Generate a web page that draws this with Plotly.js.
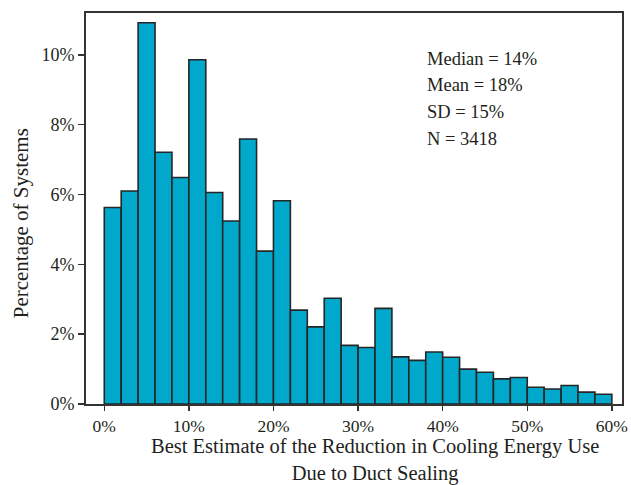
<!DOCTYPE html>
<html>
<head>
<meta charset="utf-8">
<script src="https://cdn.plot.ly/plotly-3.0.1.min.js"></script>
<style>html,body{margin:0;padding:0;background:#fff;}#chart{width:631px;height:485px;}</style>
</head>
<body>
<div id="chart"></div>
<script>
// Bin centers (% reduction), each bin 2 percentage points wide
const binCenters = [1,3,5,7,9,11,13,15,17,19,21,23,25,27,29,31,33,35,37,39,41,43,45,47,49,51,53,55,57,59];
// Percentage of systems in each bin
const pctSystems = [5.63,6.10,10.92,7.21,6.49,9.86,6.06,5.24,7.59,4.38,5.82,2.69,2.21,3.03,1.68,1.62,2.74,1.35,1.25,1.49,1.34,1.00,0.91,0.72,0.76,0.48,0.43,0.53,0.34,0.28];
const xTickVals = [0,10,20,30,40,50,60];
const xTickText = ["0%","10%","20%","30%","40%","50%","60%"];
const yTickVals = [0,2,4,6,8,10];
const yTickText = ["0%","2%","4%","6%","8%","10%"];
const statsLines = ["Median = 14%","Mean = 18%","SD = 15%","N = 3418"];

const serif = "Liberation Serif, Times New Roman, serif";
const txt = "#231f20";

const trace = {
  type: "bar",
  x: binCenters,
  y: pctSystems,
  width: 2,
  marker: {color: "#00a9cc", line: {color: "#262626", width: 1.6}},
  hoverinfo: "skip"
};

const W = 622 - 86, H = 403.7 - 12.7;
const annotations = statsLines.map((t, i) => ({
  xref: "paper", yref: "paper",
  x: (425 - 86) / W, y: 1 - (58.3 - 12.7 + i * 26.7) / H,
  xanchor: "left", yanchor: "middle",
  text: t, showarrow: false,
  font: {family: serif, size: 18.5, color: txt}
}));
annotations.push({
  xref: "paper", yref: "paper",
  x: (375 - 86) / W, y: -(434 - 403.7) / H,
  xanchor: "center", yanchor: "top",
  borderpad: 0,
  text: "Best Estimate of the Reduction in Cooling Energy Use<br>Due to Duct Sealing",
  showarrow: false,
  font: {family: serif, size: 20.5, color: txt}
});
annotations.push({
  xref: "paper", yref: "paper",
  x: (21 - 86) / W, y: 1 - (223 - 12.7) / H,
  xanchor: "center", yanchor: "middle",
  textangle: -90,
  text: "Percentage of Systems",
  showarrow: false,
  font: {family: serif, size: 21, color: txt}
});

const layout = {
  width: 631, height: 485,
  margin: {l: 86, r: 9, t: 13, b: 81},
  paper_bgcolor: "#fff", plot_bgcolor: "#fff",
  showlegend: false,
  bargap: 0,
  xaxis: {
    range: [-2.16, 61.2],
    tickvals: xTickVals, ticktext: xTickText,
    ticks: "outside", ticklen: 5, tickwidth: 1.5, tickcolor: "#333",
    showgrid: false, zeroline: false,
    showline: true, linecolor: "#333", linewidth: 2, mirror: true,
    tickfont: {family: serif, size: 17.5, color: txt}
  },
  yaxis: {
    range: [0, 11.2],
    tickvals: yTickVals, ticktext: yTickText,
    ticks: "outside", ticklen: 6, tickwidth: 1.5, tickcolor: "#333",
    showgrid: false, zeroline: false,
    showline: true, linecolor: "#333", linewidth: 2, mirror: true,
    tickfont: {family: serif, size: 18, color: txt}
  },
  annotations: annotations
};

Plotly.newPlot("chart", [trace], layout, {staticPlot: true, displayModeBar: false});
</script>
</body>
</html>
